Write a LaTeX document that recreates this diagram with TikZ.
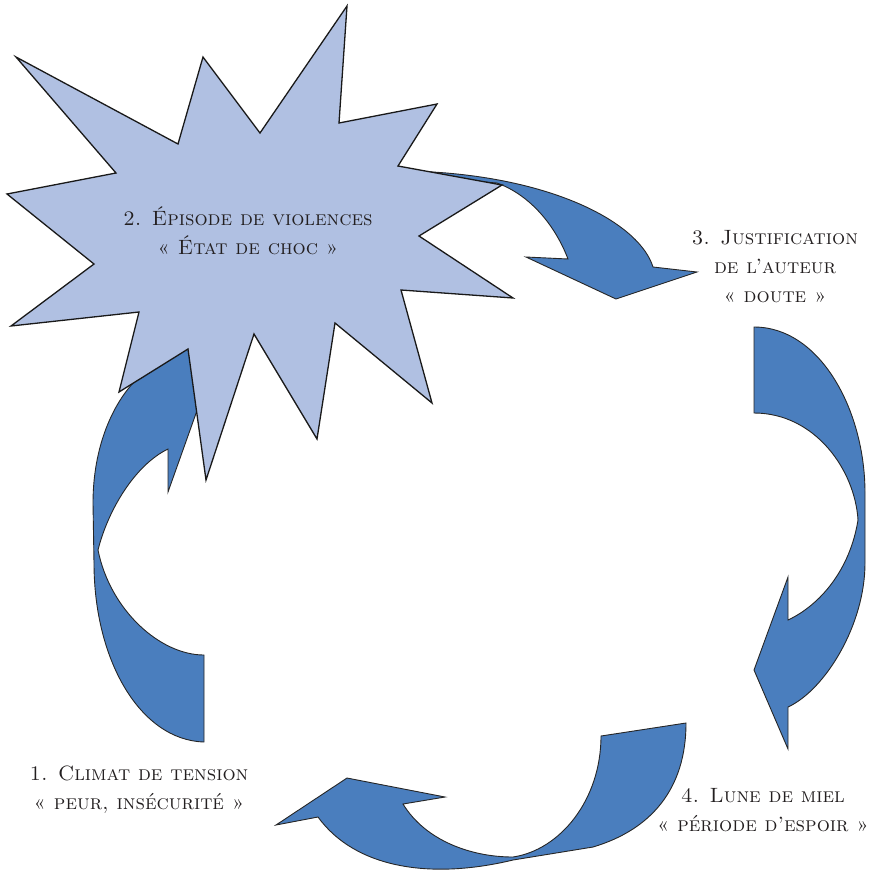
\documentclass[tikz,border=0pt]{standalone}
\usepackage{fontspec}
\definecolor{arrowblue}{RGB}{74,126,190}
\definecolor{starblue}{RGB}{176,192,226}
\definecolor{textgray}{RGB}{35,31,32}
\begin{document}
\begin{tikzpicture}[x=1pt,y=-1pt,
  arrowshape/.style={fill=arrowblue, draw=black!85, line width=0.9pt, line join=miter},
  starshape/.style={fill=starblue, draw=black!90, line width=1.3pt, line join=miter},
  lbl/.style={font=\fontsize{20.7}{29}\selectfont\scshape, align=center, text=textgray, inner sep=0pt}]
\useasboundingbox (0,0) rectangle (872,871);

% Arrow A : star -> 3 (behind the star)
\draw[arrowshape] (433,172) .. controls (560,180) and (640,225) .. (653,267)
  -- (697,272) -- (616,299) -- (526,257) -- (568,259)
  .. controls (555,225) and (530,195) .. (497,183) -- (460,180) -- cycle;

% Arrow D : 1 -> star (behind the star)
\draw[arrowshape] (204,742) .. controls (140,740) and (94,660) .. (94,563)
  -- (93,503) .. controls (93,440) and (118,390) .. (150,368)
  -- (184,350) -- (200,345) -- (215,360) -- (168,492) -- (168,449)
  .. controls (135,465) and (108,510) .. (98,550)
  .. controls (110,610) and (160,655) .. (204,655) -- cycle;

% Arrow B : 3 -> 4
\draw[arrowshape] (754,327) .. controls (820,327) and (865,410) .. (865,493)
  -- (865,563) .. controls (865,625) and (825,690) .. (788,707)
  -- (788,749) -- (754,670) -- (788,577) -- (788,620)
  .. controls (820,605) and (850,570) .. (858,520)
  .. controls (855,470) and (815,413) .. (754,413) -- cycle;

% Arrow C : 4 -> 1
\draw[arrowshape] (686,723) .. controls (686,790) and (650,830) .. (593,847)
  -- (513,860) .. controls (430,880) and (355,868) .. (318,817)
  -- (276,825) -- (347,778) -- (445,797) -- (403,804)
  .. controls (425,840) and (470,857) .. (513,857)
  .. controls (560,850) and (601,800) .. (601,736) -- cycle;

% Star (episode of violence)
\draw[starshape] (347,6) -- (339,123) -- (437,104) -- (398,166) -- (502,185)
  -- (419,236) -- (513,298) -- (401,290) -- (432,403) -- (335,323)
  -- (317,439) -- (254,334) -- (206,480) -- (188,349) -- (119,392)
  -- (139,312) -- (11,326) -- (94,264) -- (7,194) -- (116,173)
  -- (16,57) -- (178,144) -- (203,57) -- (260,133) -- cycle;

% Labels
\node[lbl] (t2) at (248,231) {2. Épisode de violences\\«~État de choc~»};
\node[lbl] (t3) at (775,267) {3. Justification\\de l’auteur\\«~doute~»};
\node[lbl] (t1) at (139,790) {1. Climat de tension\\«~peur, insécurité~»};
\node[lbl] (t4) at (763,810) {4. Lune de miel\\«~période d’espoir~»};
\end{tikzpicture}
\end{document}
